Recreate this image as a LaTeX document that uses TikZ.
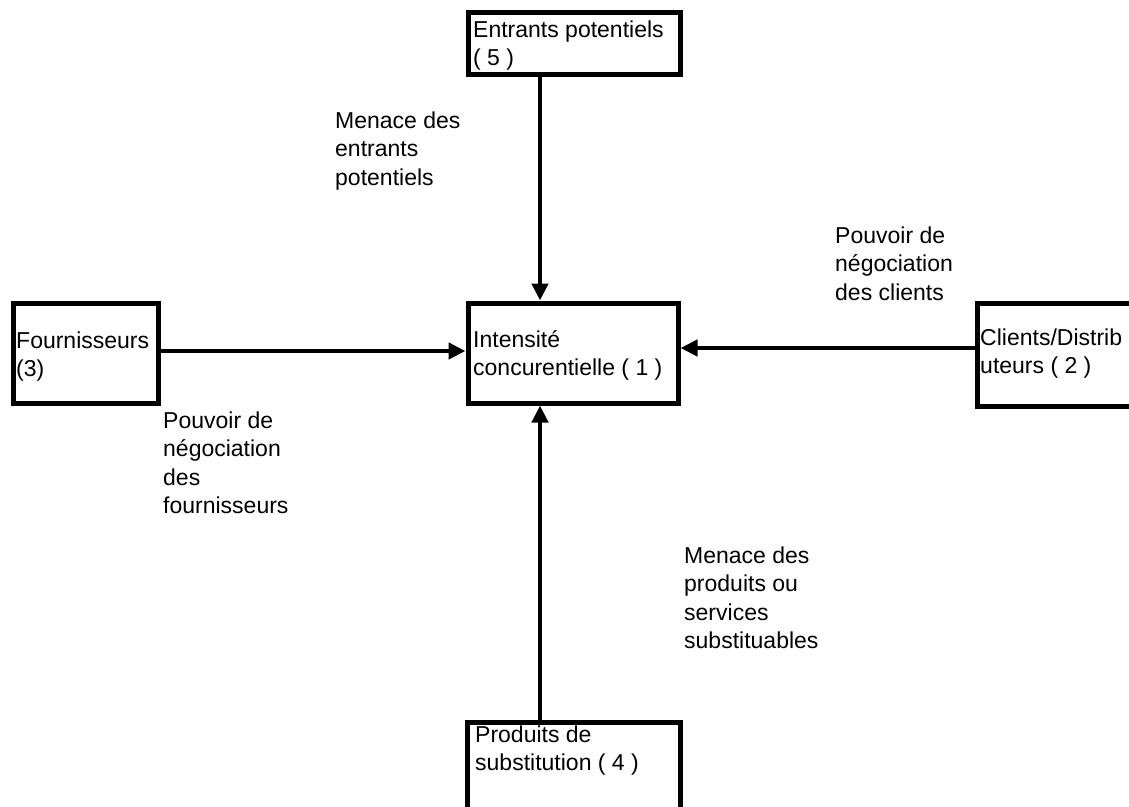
\documentclass[tikz,border=0pt]{standalone}
\usepackage{fontspec}
\setmainfont{Liberation Sans}
\usetikzlibrary{arrows.meta}
\newcommand\mylines[1]{\vtop{\baselineskip=28.5pt\lineskiplimit=-100pt\halign{##\hfil\cr #1\cr}}}
\begin{document}
\begin{tikzpicture}[x=1pt,y=-1pt,
  box/.style={draw=black, line width=5pt, rectangle, inner sep=0pt, fill=white},
  arr/.style={line width=4.5pt, -{Triangle[length=17pt,width=16pt]}},
  txt/.style={anchor=base west, inner sep=0pt, font=\fontsize{23}{28.5}\selectfont}]
\clip (0,0) rectangle (1129,806);
\fill[white] (0,0) rectangle (1129,806);
% boxes
\node[box, minimum width=212pt, minimum height=62pt] (e5) at (574,43) {};
\node[box, minimum width=210pt, minimum height=100pt] (e1) at (573,353) {};
\node[box, minimum width=145pt, minimum height=100pt] (e3) at (85.5,353) {};
\node[box, minimum width=240pt, minimum height=103pt] (e2) at (1097,354.5) {};
\node[box, minimum width=213pt, minimum height=136pt] (e4) at (573.5,790) {};
% box texts
\node[txt] (t5) at (473,37) {\mylines{Entrants potentiels\cr ( 5 )}};
\node[txt] (t1) at (473,347) {\mylines{Intensité\cr concurentielle ( 1 )}};
\node[txt] (t3) at (16,348) {\mylines{Fournisseurs\cr (3)}};
\node[txt] (t2) at (980,345) {\mylines{Clients/Distrib\cr uteurs ( 2 )}};
\node[txt] (t4) at (475,742) {\mylines{Produits de\cr substitution ( 4 )}};
% arrow labels
\node[txt] (l5) at (335,128) {\mylines{Menace des\cr entrants\cr potentiels}};
\node[txt] (l2) at (835,243) {\mylines{Pouvoir de\cr négociation\cr des clients}};
\node[txt] (l3) at (163,428) {\mylines{Pouvoir de\cr négociation\cr des\cr fournisseurs}};
\node[txt] (l4) at (684,563) {\mylines{Menace des\cr produits ou\cr services\cr substituables}};
% connectors
\coordinate (vx) at (540,0);
\coordinate (hy) at (0,348);
\coordinate (hf) at (0,351);
\draw[arr] (e5.south -| vx) -- (e1.north -| vx);
\draw[arr] (e4.north -| vx) -- (e1.south -| vx);
\draw[arr] (e3.east |- hf) -- (e1.west |- hf);
\draw[arr] (e2.west |- hy) -- (e1.east |- hy);
\end{tikzpicture}
\end{document}
